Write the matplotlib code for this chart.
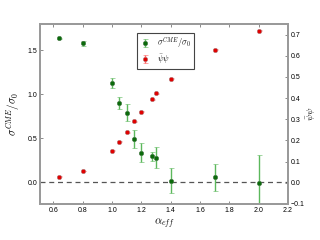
import matplotlib
matplotlib.use("Agg")
import matplotlib.pyplot as plt

plt.rcParams['mathtext.fontset'] = 'cm'
plt.rcParams['font.family'] = ['Liberation Sans', 'DejaVu Sans']

# sigma^CME / sigma_0 (left axis)
alpha_s = [0.64, 0.80, 1.00, 1.05, 1.10, 1.15, 1.20, 1.27, 1.30, 1.40, 1.70, 2.00]
sigma = [1.635, 1.58, 1.125, 0.90, 0.79, 0.49, 0.335, 0.295, 0.276, 0.015, 0.053, -0.007]
sigma_err = [0.01, 0.03, 0.057, 0.07, 0.10, 0.105, 0.105, 0.05, 0.12, 0.14, 0.15, 0.31]

# chiral condensate (right axis)
alpha_p = [0.64, 0.80, 1.00, 1.05, 1.10, 1.15, 1.20, 1.27, 1.30, 1.40, 1.70, 2.00]
psi = [0.029, 0.056, 0.152, 0.195, 0.239, 0.29, 0.335, 0.394, 0.422, 0.492, 0.629, 0.719]
psi_err = [0.002] * len(psi)

fig = plt.figure(figsize=(3.2, 2.4), dpi=100)
ax = fig.add_axes([0.125, 0.15, 0.775, 0.75])
ax2 = ax.twinx()

ax.axhline(0.0, color='#555555', ls='--', lw=0.9, dashes=(4, 3))

h1 = ax.errorbar(alpha_s, sigma, yerr=sigma_err, fmt='o', ms=3.2, color='#0b6b0b',
                 mec='#4a7a4a', mew=0.4, ecolor='#5cb85c', elinewidth=1.0, capsize=1.8,
                 capthick=0.8, label=r'$\sigma^{CME}/\sigma_0$')
h2 = ax2.errorbar(alpha_p, psi, yerr=psi_err, fmt='o', ms=3.2, color='#e00000',
                  mec='#b08080', mew=0.4, ecolor='#ff6666', elinewidth=1.0, capsize=1.8,
                  capthick=0.8, label=r'$\bar{\psi}\psi$')

ax.set_xlim(0.51, 2.2)
ax.set_ylim(-0.25, 1.8)
ax2.set_ylim(-0.1, 0.75)
ax.set_xticks([0.6, 0.8, 1.0, 1.2, 1.4, 1.6, 1.8, 2.0, 2.2])
ax.set_yticks([0.0, 0.5, 1.0, 1.5])
ax2.set_yticks([-0.1, 0.0, 0.1, 0.2, 0.3, 0.4, 0.5, 0.6, 0.7])

for a in (ax, ax2):
    for s in a.spines.values():
        s.set_color('#9a9a9a')
        s.set_linewidth(1.4)
ax.tick_params(axis='both', direction='in', labelsize=5, width=0.6, length=2.5,
               color='#777777', top=True, pad=2)
ax2.tick_params(axis='y', direction='in', labelsize=5, width=0.6, length=2.5,
                color='#777777', pad=2)

ax.set_xlabel(r'$\alpha_{eff}$', fontsize=8, labelpad=2)
ax.set_ylabel(r'$\sigma^{CME}/\sigma_0$', fontsize=8, labelpad=4)
ax2.set_ylabel(r'$\bar{\psi}\psi$', fontsize=7, labelpad=0)

leg = ax.legend(handles=[h1, h2], loc='upper left', bbox_to_anchor=(0.375, 0.975),
                fontsize=6, fancybox=False, edgecolor='#444444', framealpha=1,
                handlelength=1.2, borderpad=0.35, labelspacing=0.3, handletextpad=0.8)
leg.get_frame().set_linewidth(0.8)

fig.savefig('out.png', dpi=100)
